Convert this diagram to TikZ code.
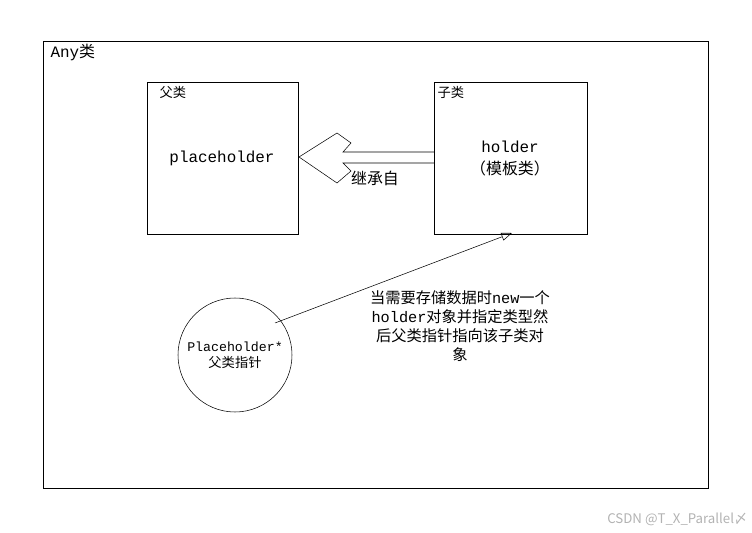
\documentclass[tikz,border=0pt]{standalone}
\usepackage{fontspec}
\setmainfont{Noto Sans CJK SC}
\newfontfamily\latinmono{Liberation Mono}
\usetikzlibrary{arrows.meta}
\begin{document}
\begin{tikzpicture}[x=0.0265cm,y=-0.0265cm,font=\large]
      \tikzset{box/.style={draw, thin},
               lbl/.style={inner sep=1pt, anchor=north west}}
      \useasboundingbox (0,0) rectangle (752,533);
%% Frames
      	\draw[box] (43,41) rectangle (708,488);
      	\node[lbl] (any) at (49,43) {{\latinmono Any}类};
      	\draw[box] (147,82) rectangle (298,234);
      	\node[lbl, font=\normalsize] (parentlbl) at (158,85) {父类};
      	\node (placeholder) at (222,158) {\latinmono placeholder};
      	\draw[box] (434,82) rectangle (587,234);
      	\node[lbl, font=\normalsize] (childlbl) at (436,85) {子类};
      	\node (holder) at (510,147) {\latinmono holder};
      	\node (tmpl) at (510,168) {（模板类）};
%Hollow arrow
		\draw (434,152) -- (343,152) -- (351,143) -- (337,133) -- (299,157) -- (337,183) -- (351,171) -- (343,163) -- (434,163);
		\node (inherit) at (375,178) {继承自};
%Pointer
      	\node[draw, circle, minimum size=114*0.0265cm, inner sep=0pt, align=center, font=\normalsize] (ptr) at (235,355) {{\latinmono Placeholder*}\\父类指针};
      	\coordinate (target) at (512,233);
		\draw[-{Triangle[open, length=8pt, width=6pt]}] (275,323) -- (target);
		\node[align=center, font=\fontsize{11.5}{14.5}\selectfont, inner sep=0pt, text width=200*0.0265cm] (note) at (460,326) {当需要存储数据时{\latinmono new}一个\\{\latinmono holder}对象并指定类型然\\后父类指针指向该子类对\\象};
		\node[text=gray!60, anchor=east, font=\normalsize] (mark) at (752,519) {CSDN @T\_X\_Parallel〆};
	\end{tikzpicture}
\end{document}
